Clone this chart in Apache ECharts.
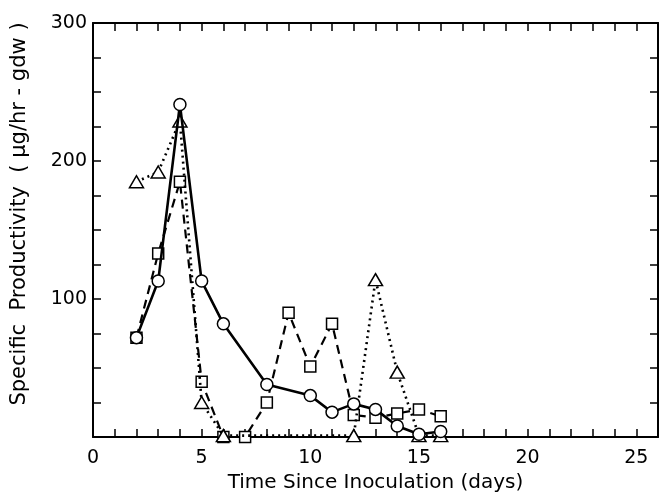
<!DOCTYPE html>
<html><head><meta charset="utf-8">
<script src="https://cdn.jsdelivr.net/npm/echarts@6/dist/echarts.min.js"></script>
<style>html,body{margin:0;padding:0;background:#fff}#c{width:660px;height:496px}</style>
</head><body><div id="c"></div>
<script>
var circleDays = [2,3,4,5,6,8,10,11,12,13,14,15,16];
var circleVals = [72,113,241,113,82,38,30,18,24,20,8,2,4];
var squareDays = [2,3,4,5,6,7,8,9,10,11,12,13,14,15,16];
var squareVals = [72,133,185,40,0,0,25,90,51,82,16,14,17,20,15];
var triDays = [2,3,4,5,6,12,13,14,15,16];
var triVals = [185,192,229,25,1,1,114,47,1,1];
var xTickLabels = [0,5,10,15,20,25];
var yTickLabels = [100,200,300];
var xTitle = 'Time Since Inoculation (days)';
var yTitle = 'Specific  Productivity  ( μg/hr - gdw )';

function pairs(xs, ys){ return xs.map(function(x,i){return [x, ys[i]];}); }
var FONT = 'DejaVu Sans';
var axisLine = {show:true, onZero:false, lineStyle:{color:'#000', width:2}};
var tick = {show:true, inside:true, length:8, lineStyle:{color:'#000', width:1.5}};
var chart = echarts.init(document.getElementById('c'), null, {renderer:'canvas'});
chart.setOption({
  animation:false,
  backgroundColor:'#fff',
  grid:{left:93, right:2, top:23, bottom:59, containLabel:false, outerBoundsMode:'none'},
  graphic:[{
    type:'text', x:20, y:214, rotation:Math.PI/2,
    style:{text:yTitle, fill:'#000', font:'21px "DejaVu Sans"', align:'center', verticalAlign:'middle'}
  }],
  xAxis:[{
    type:'value', min:0, max:26, interval:1, position:'bottom',
    axisLine:axisLine, splitLine:{show:false}, axisTick:tick,
    axisLabel:{color:'#000', fontFamily:FONT, fontSize:19, margin:12,
      formatter:function(v){ return xTickLabels.indexOf(v)>=0 ? String(v) : ''; }},
    name:xTitle, nameLocation:'middle', nameGap:36,
    nameTextStyle:{color:'#000', fontFamily:FONT, fontSize:20}
  },{
    type:'value', min:0, max:26, interval:1, position:'top',
    axisLine:axisLine, splitLine:{show:false}, axisTick:tick,
    axisLabel:{show:false}
  }],
  yAxis:[{
    type:'value', min:0, max:300, interval:25, position:'left',
    axisLine:axisLine, splitLine:{show:false}, axisTick:tick,
    axisLabel:{color:'#000', fontFamily:FONT, fontSize:19, margin:6,
      formatter:function(v){ return yTickLabels.indexOf(v)>=0 ? String(v) : ''; }}
  },{
    type:'value', min:0, max:300, interval:25, position:'right',
    axisLine:axisLine, splitLine:{show:false}, axisTick:tick,
    axisLabel:{show:false}
  }],
  series:[{
    type:'line', data:pairs(squareDays, squareVals), symbol:'rect', symbolSize:11,
    lineStyle:{color:'#000', width:2.2, type:[9,6]},
    itemStyle:{color:'#fff', borderColor:'#000', borderWidth:1.5}, z:2
  },{
    type:'line', data:pairs(triDays, triVals), symbol:'triangle', symbolSize:[14,12],
    lineStyle:{color:'#000', width:2.6, type:[2,4]},
    itemStyle:{color:'#fff', borderColor:'#000', borderWidth:1.5}, z:3
  },{
    type:'line', data:pairs(circleDays, circleVals), symbol:'circle', symbolSize:12,
    lineStyle:{color:'#000', width:2.6, type:'solid'},
    itemStyle:{color:'#fff', borderColor:'#000', borderWidth:1.5}, z:4
  }]
});
</script></body></html>
